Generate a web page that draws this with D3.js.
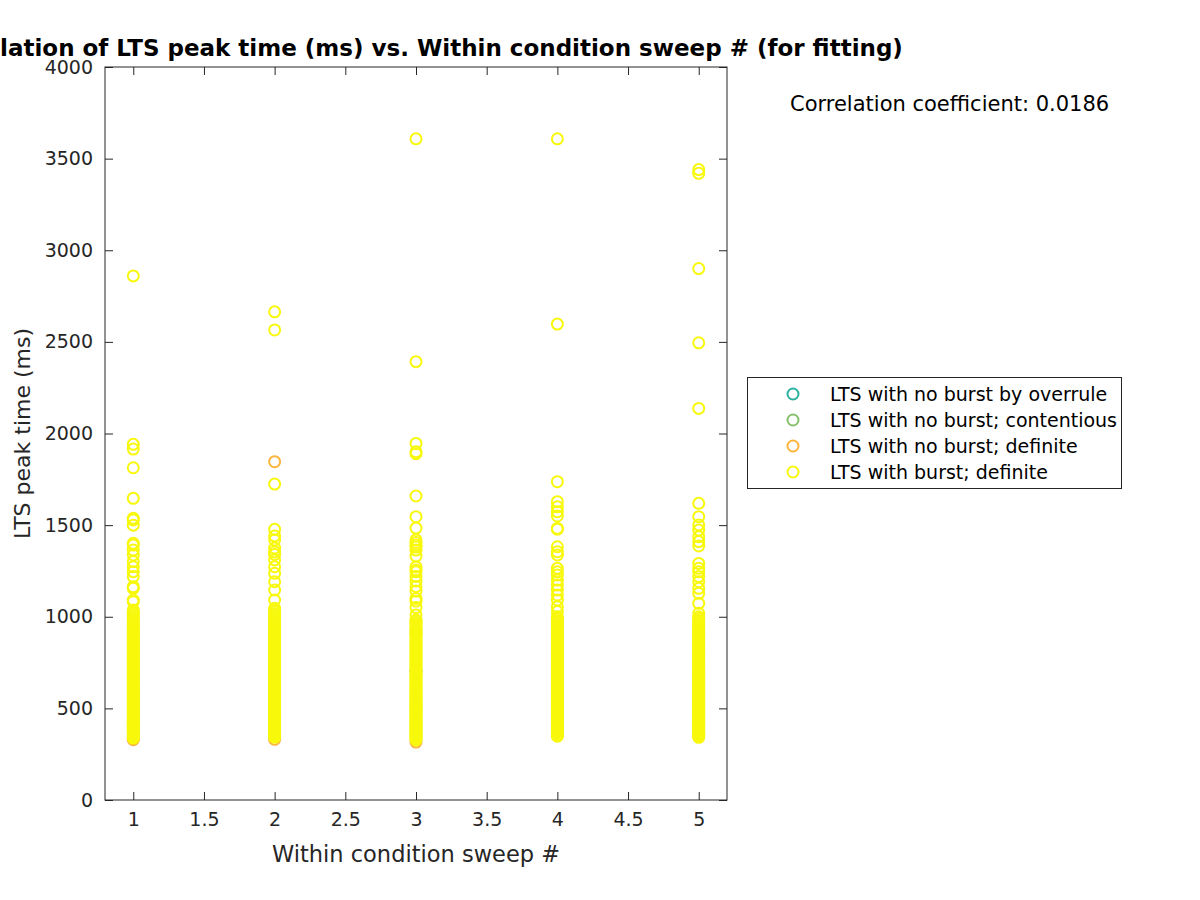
<!DOCTYPE html>
<html>
<head>
<meta charset="utf-8">
<script src="https://cdn.jsdelivr.net/npm/d3@7"></script>
<style>
  html, body { margin: 0; padding: 0; background: #fff; }
  svg { display: block; font-family: "DejaVu Sans", sans-serif; }
</style>
</head>
<body>
<svg id="chart" width="1200" height="900"></svg>
<script>
// ---------- DATA ----------
const xTicks = [1, 1.5, 2, 2.5, 3, 3.5, 4, 4.5, 5];
const yTicks = [0, 500, 1000, 1500, 2000, 2500, 3000, 3500, 4000];

const groupNames = [
  "LTS with no burst by overrule",
  "LTS with no burst; contentious",
  "LTS with no burst; definite",
  "LTS with burst; definite"
];
const groupColors = ["#2bb19f", "#86c06b", "#fdb53c", "#f8f80c"];

// sweep # and peak time pairs for each group
const overruleSweep = [3];
const overrulePeak  = [702];

const contentiousSweep = [4];
const contentiousPeak  = [863];

const noBurstSweep = [1, 1, 2, 2, 3, 3, 4, 4];
const noBurstPeak  = [329, 336, 1846, 331, 316, 917, 967, 911];

// LTS with burst; definite — per sweep
const burst1 = [338, 344, 350, 355, 361, 368, 374, 381, 387, 393, 400, 406, 412, 419, 425, 431, 438, 444, 450, 457,
  463, 470, 476, 482, 489, 495, 502, 508, 515, 521, 528, 534, 541, 548, 554, 561, 567, 574, 581, 587, 594, 601, 608,
  615, 622, 629, 636, 643, 650, 657, 664, 671, 678, 686, 693, 700, 708, 715, 723, 730, 738, 746, 753, 761, 769, 777,
  785, 793, 801, 809, 817, 825, 834, 842, 850, 859, 867, 876, 884, 893, 902, 911, 920, 929, 938, 947, 956, 966, 975,
  985, 994, 1004, 1014, 1025, 1037, 1082, 1091, 1155, 1164, 1219, 1246, 1273, 1301, 1337, 1364, 1391, 1401,
  1500, 1528, 1537, 1646, 1813, 1915, 1941, 2860];

const burst2 = [343, 349, 354, 360, 366, 372, 378, 384, 391, 397, 403, 409, 416, 422, 428, 435, 441, 447, 454, 460,
  467, 473, 480, 486, 493, 499, 506, 512, 519, 526, 532, 539, 546, 553, 559, 566, 573, 580, 587, 594, 600, 607, 614,
  621, 628, 636, 643, 650, 657, 664, 672, 679, 686, 694, 701, 709, 716, 724, 731, 739, 747, 755, 762, 770, 778, 786,
  794, 802, 810, 818, 827, 835, 843, 852, 860, 869, 877, 886, 895, 903, 912, 921, 930, 940, 949, 958, 968, 977, 987,
  997, 1007, 1017, 1027, 1037, 1046, 1091, 1146, 1191, 1237, 1273, 1310, 1340, 1354, 1375, 1419, 1441, 1477,
  1724, 2565, 2664];

const burst3 = [328, 334, 340, 346, 352, 358, 364, 370, 376, 383, 389, 395, 401, 408, 414, 420, 427, 433, 440, 446,
  452, 459, 465, 472, 478, 485, 491, 498, 505, 511, 518, 525, 531, 538, 545, 552, 558, 565, 572, 579, 586, 593, 600,
  607, 614, 621, 628, 635, 642, 650, 657, 664, 671, 679, 686, 694, 701, 709, 716, 724, 732, 739, 747, 755, 763, 771,
  779, 787, 795, 803, 811, 820, 828, 836, 845, 853, 862, 870, 879, 888, 896, 905, 914, 923, 932, 941, 950, 960, 969,
  979, 982, 1010, 1050, 1085, 1100, 1140, 1165, 1195, 1220, 1245, 1255, 1272, 1331, 1364, 1380, 1391, 1405,
  1419, 1484, 1546, 1659, 1890, 1900, 1946, 2392, 3608];

const burst4 = [348, 353, 359, 365, 371, 377, 383, 389, 395, 402, 408, 414, 421, 427, 433, 440, 446, 452, 459, 465,
  472, 478, 485, 491, 498, 504, 511, 518, 524, 531, 538, 544, 551, 558, 565, 572, 578, 585, 592, 599, 606, 613, 620,
  627, 634, 642, 649, 656, 663, 671, 678, 685, 693, 700, 708, 715, 723, 731, 738, 746, 754, 762, 770, 778, 786, 794,
  802, 810, 818, 826, 834, 843, 851, 860, 868, 877, 885, 894, 903, 912, 921, 930, 939, 948, 957, 967, 976, 986, 995,
  1000, 1028, 1055, 1091, 1119, 1146, 1173, 1200, 1228, 1245, 1264, 1337, 1355, 1382, 1478, 1482, 1550, 1573,
  1600, 1628, 1737, 2597, 3608];

const burst5 = [342, 348, 354, 360, 366, 372, 378, 384, 390, 397, 403, 409, 416, 422, 428, 435, 441, 448, 454, 461,
  467, 474, 480, 487, 493, 500, 507, 513, 520, 527, 533, 540, 547, 554, 560, 567, 574, 581, 588, 595, 602, 609, 616,
  623, 630, 637, 644, 651, 659, 666, 673, 681, 688, 695, 703, 711, 718, 726, 733, 741, 749, 757, 765, 773, 781, 789,
  797, 805, 813, 821, 829, 838, 846, 854, 863, 871, 880, 889, 897, 906, 915, 924, 933, 942, 951, 961, 970, 980, 990,
  1000, 1019, 1073, 1128, 1155, 1191, 1219, 1246, 1264, 1291, 1386, 1410, 1437, 1473, 1501, 1546, 1619,
  2137, 2495, 2900, 3420, 3440];

const burstSweeps = [1, 2, 3, 4, 5];
const burstPeaks = [burst1, burst2, burst3, burst4, burst5];

const corrText = "Correlation coefficient: 0.0186";
const titleText = "Correlation of LTS peak time (ms) vs. Within condition sweep # (for fitting)";
const xLabelText = "Within condition sweep #";
const yLabelText = "LTS peak time (ms)";

// ---------- BUILD POINTS ----------
const groups = [
  overruleSweep.map((s, i) => ({ x: s, y: overrulePeak[i] })),
  contentiousSweep.map((s, i) => ({ x: s, y: contentiousPeak[i] })),
  noBurstSweep.map((s, i) => ({ x: s, y: noBurstPeak[i] })),
  burstSweeps.flatMap((s, k) => burstPeaks[k].map(v => ({ x: s, y: v })))
];

// ---------- LAYOUT ----------
const svg = d3.select("#chart");
const L = 105, R = 727, T = 67, B = 800;
const axisColor = "#262626";

const x = d3.scaleLinear().domain([0.8, 5.2]).range([L, R]);
const y = d3.scaleLinear().domain([0, 4000]).range([B, T]);

// points
const r = 5.5;
groups.forEach((pts, gi) => {
  svg.append("g")
    .selectAll("circle")
    .data(pts)
    .join("circle")
    .attr("cx", d => x(d.x))
    .attr("cy", d => y(d.y))
    .attr("r", r)
    .attr("fill", "none")
    .attr("stroke", groupColors[gi])
    .attr("stroke-width", 2);
});

// axes (ticks inward, box)
const tickLen = 8;
const fontTick = 19;

const xAxisB = svg.append("g").attr("transform", `translate(0,${B})`)
  .call(d3.axisBottom(x).tickValues(xTicks).tickSizeInner(-tickLen).tickSizeOuter(0).tickPadding(13)
    .tickFormat(d3.format("")));
const xAxisT = svg.append("g").attr("transform", `translate(0,${T})`)
  .call(d3.axisTop(x).tickValues(xTicks).tickSizeInner(-tickLen).tickSizeOuter(0).tickFormat(""));
const yAxisL = svg.append("g").attr("transform", `translate(${L},0)`)
  .call(d3.axisLeft(y).tickValues(yTicks).tickSizeInner(-tickLen).tickSizeOuter(0).tickPadding(12)
    .tickFormat(d3.format("")));
const yAxisR = svg.append("g").attr("transform", `translate(${R},0)`)
  .call(d3.axisRight(y).tickValues(yTicks).tickSizeInner(-tickLen).tickSizeOuter(0).tickFormat(""));

[xAxisB, xAxisT, yAxisL, yAxisR].forEach(g => {
  g.select(".domain").remove();
  g.selectAll("line").attr("stroke", axisColor).attr("stroke-width", 1);
  g.selectAll("text").attr("fill", axisColor).style("font-size", fontTick + "px")
    .style("font-family", "DejaVu Sans, sans-serif");
});

svg.append("rect")
  .attr("x", L).attr("y", T).attr("width", R - L).attr("height", B - T)
  .attr("fill", "none").attr("stroke", axisColor).attr("stroke-width", 1);

// axis labels
svg.append("text")
  .attr("x", (L + R) / 2).attr("y", 862)
  .attr("text-anchor", "middle")
  .attr("fill", axisColor)
  .style("font-size", "22.5px")
  .text(xLabelText);

svg.append("text")
  .attr("transform", `translate(30,${(T + B) / 2}) rotate(-90)`)
  .attr("text-anchor", "middle")
  .attr("fill", axisColor)
  .style("font-size", "22px")
  .text(yLabelText);

// title
svg.append("text")
  .attr("x", (L + R) / 2).attr("y", 56)
  .attr("text-anchor", "middle")
  .attr("fill", "#000")
  .style("font-size", "23px")
  .style("font-weight", "bold")
  .text(titleText);

// correlation text
svg.append("text")
  .attr("x", 790).attr("y", 111)
  .attr("fill", "#000")
  .style("font-size", "21px")
  .text(corrText);

// legend
const lg = svg.append("g");
lg.append("rect")
  .attr("x", 747.5).attr("y", 377.5).attr("width", 374).attr("height", 111)
  .attr("fill", "#fff").attr("stroke", axisColor).attr("stroke-width", 1);
const legY = d3.scalePoint().domain(groupNames).range([394, 472]);
groupNames.forEach((name, i) => {
  lg.append("circle")
    .attr("cx", 793).attr("cy", legY(name)).attr("r", r)
    .attr("fill", "none").attr("stroke", groupColors[i]).attr("stroke-width", 2);
  lg.append("text")
    .attr("x", 830).attr("y", legY(name)).attr("dy", "0.35em")
    .attr("fill", "#000")
    .style("font-size", "19px")
    .text(name);
});
</script>
</body>
</html>
